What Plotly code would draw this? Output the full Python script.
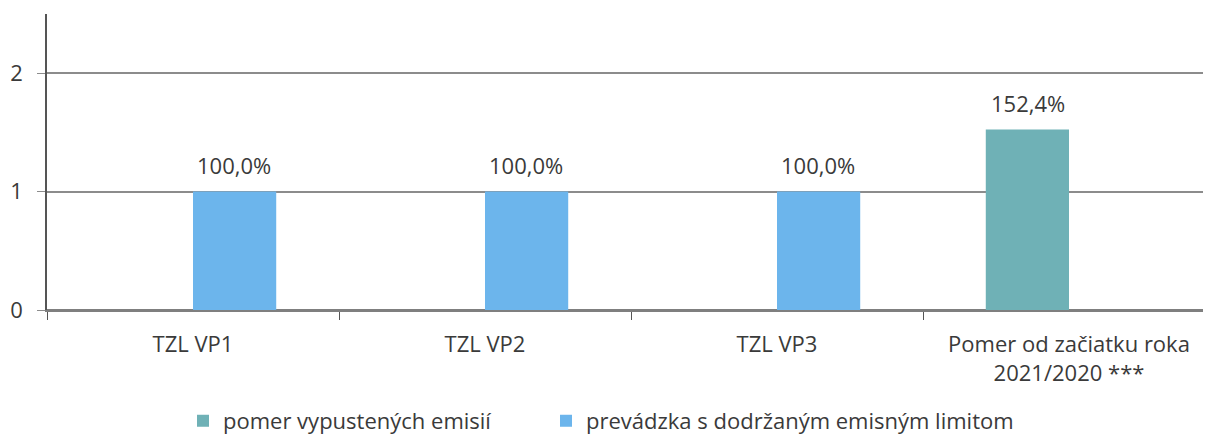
import plotly.graph_objects as go

categories = ["TZL VP1", "TZL VP2", "TZL VP3", "Pomer od začiatku roka<br>2021/2020 ***"]
emisie = [None, None, None, 1.524]
limit = [1.0, 1.0, 1.0, None]

TEAL = "#6fb1b6"
BLUE = "#6cb5ec"
FONT = "Open Sans"
TXT = "#3a3a3a"


def pct(v):
    return f"{v * 100:.1f}%".replace(".", ",")


fig = go.Figure()
fig.add_trace(go.Bar(
    x=categories, y=emisie, name="pomer vypustených emisií",
    marker=dict(color=TEAL, line=dict(width=0)), legend="legend",
))
fig.add_trace(go.Bar(
    x=categories, y=limit, name="prevádzka s dodržaným emisným limitom",
    marker=dict(color=BLUE, line=dict(width=0)), legend="legend2",
))

# data labels above each bar (left bar of group = teal, right = blue)
bar_px = 41
for cat, v in zip(categories, emisie):
    if v is not None:
        fig.add_annotation(x=cat, y=v, text=pct(v), showarrow=False,
                           yanchor="bottom", yshift=10, xshift=-bar_px,
                           font=dict(family=FONT, size=22, color=TXT))
for cat, v in zip(categories, limit):
    if v is not None:
        fig.add_annotation(x=cat, y=v, text=pct(v), showarrow=False,
                           yanchor="bottom", yshift=10, xshift=bar_px,
                           font=dict(family=FONT, size=22, color=TXT))

legend_style = dict(orientation="h", xref="container", xanchor="left",
                    yref="container", y=0.072, yanchor="middle",
                    font=dict(size=22, color=TXT), itemwidth=30)

fig.update_layout(
    width=1211, height=445,
    barmode="group", bargap=0.43, bargroupgap=0,
    plot_bgcolor="white", paper_bgcolor="white",
    margin=dict(l=39, r=4, t=6, b=143),
    font=dict(family=FONT, size=22, color=TXT),
    legend=dict(x=175 / 1211, **legend_style),
    legend2=dict(x=538 / 1211, **legend_style),
    showlegend=True,
)
fig.update_xaxes(
    automargin=False,
    showline=True, linecolor="#7f7f7f", linewidth=1.5,
    ticks="outside", tickson="boundaries", ticklen=8, tickcolor="#555",
    tickfont=dict(size=22), ticklabelstandoff=14, showgrid=False,
)
fig.update_yaxes(
    automargin=False,
    range=[0, 2.5], tickvals=[0, 1, 2], showline=True, linecolor="#555", linewidth=1.5,
    showgrid=True, gridcolor="#8c8c8c", gridwidth=1.5, zeroline=True,
    zerolinecolor="#7f7f7f", zerolinewidth=1.5,
    ticks="outside", ticklen=8, tickcolor="#8c8c8c", tickfont=dict(size=22),
    ticklabelstandoff=10,
)

fig.write_html("out.html")
